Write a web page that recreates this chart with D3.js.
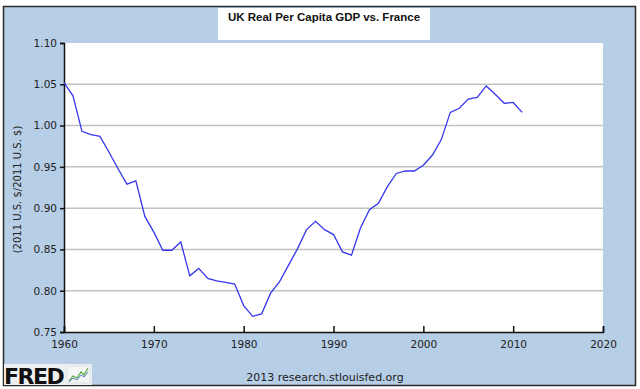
<!DOCTYPE html>
<html>
<head>
<meta charset="utf-8">
<script src="https://cdn.jsdelivr.net/npm/d3@7"></script>
<style>
    body { margin: 0; background: #fff; }
    .axis-label { font-family: "DejaVu Sans", Verdana, sans-serif; font-size: 10.5px; fill: #222; }
    .chart-title { font-family: "Liberation Sans", Arial, sans-serif; font-size: 11.5px; font-weight: bold; fill: #111; }
</style>
</head>
<body>
<div id="chart-area"></div>
<script>

// UK real per capita GDP relative to France
let years = [1960, 1961, 1962, 1963, 1964, 1965, 1966, 1967, 1968, 1969,
             1970, 1971, 1972, 1973, 1974, 1975, 1976, 1977, 1978, 1979,
             1980, 1981, 1982, 1983, 1984, 1985, 1986, 1987, 1988, 1989,
             1990, 1991, 1992, 1993, 1994, 1995, 1996, 1997, 1998, 1999,
             2000, 2001, 2002, 2003, 2004, 2005, 2006, 2007, 2008, 2009,
             2010, 2011];
let ratio = [1.052, 1.036, 0.993, 0.989, 0.987, 0.968, 0.948, 0.929, 0.933, 0.890,
             0.871, 0.849, 0.849, 0.859, 0.818, 0.827, 0.815, 0.812, 0.810, 0.808,
             0.782, 0.769, 0.772, 0.797, 0.811, 0.831, 0.851, 0.874, 0.884, 0.874,
             0.868, 0.847, 0.843, 0.876, 0.898, 0.906, 0.926, 0.942, 0.945, 0.945,
             0.952, 0.964, 0.983, 1.016, 1.021, 1.032, 1.034, 1.048, 1.038, 1.027,
             1.028, 1.016];

let xTicks = [1960, 1970, 1980, 1990, 2000, 2010, 2020];
let yTicks = [0.75, 0.80, 0.85, 0.90, 0.95, 1.00, 1.05, 1.10];

let chartTitle = "UK Real Per Capita GDP vs. France";
let yTitle = "(2011 U.S. $/2011 U.S. $)";
let footer = "2013 research.stlouisfed.org";


class FredChart {

    constructor(parentElement) {
        this._parentElement = parentElement;
        this.initVis();
    }

    initVis() {
        let vis = this;

        vis.outerWidth = 640;
        vis.outerHeight = 389;
        vis.margin = {top: 43, right: 37, bottom: 57, left: 64};
        vis.width = vis.outerWidth - vis.margin.left - vis.margin.right;
        vis.height = vis.outerHeight - vis.margin.top - vis.margin.bottom;

        vis.root = d3.select("#" + vis._parentElement).append("svg")
            .attr("width", vis.outerWidth)
            .attr("height", vis.outerHeight);

        // blue frame around everything
        vis.root.append("rect")
            .attr("x", 3.5).attr("y", 6.5)
            .attr("width", 632).attr("height", 379)
            .attr("fill", "#b6cee6")
            .attr("stroke", "#2a2a2a")
            .attr("stroke-width", 1.5);

        // title box
        vis.root.append("rect")
            .attr("x", 218).attr("y", 8)
            .attr("width", 212).attr("height", 32)
            .attr("fill", "#fff");
        vis.root.append("text")
            .attr("class", "chart-title")
            .attr("x", 324).attr("y", 21)
            .attr("text-anchor", "middle")
            .text(chartTitle);

        vis.svg = vis.root.append("g")
            .attr("transform", "translate(" + vis.margin.left + "," + vis.margin.top + ")");

        vis.svg.append("rect")
            .attr("width", vis.width)
            .attr("height", vis.height)
            .attr("fill", "#fff");

        // scales
        vis.x = d3.scaleLinear()
            .domain([1960, 2020])
            .range([0, vis.width]);
        vis.y = d3.scaleLinear()
            .domain([0.75, 1.10])
            .range([vis.height, 0]);

        // gridlines
        vis.svg.append("g")
            .attr("class", "grid")
            .selectAll("line")
            .data(yTicks.filter(d => d > 0.75 && d < 1.10))
            .enter().append("line")
            .attr("x1", 0).attr("x2", vis.width)
            .attr("y1", d => vis.y(d)).attr("y2", d => vis.y(d))
            .attr("stroke", "#c2c2c2")
            .attr("stroke-width", 1.5);

        // axes
        vis.yAxis = d3.axisLeft(vis.y)
            .tickValues(yTicks)
            .tickFormat(d3.format(".2f"))
            .tickSize(4)
            .tickPadding(3);
        vis.xAxis = d3.axisBottom(vis.x)
            .tickValues(xTicks)
            .tickFormat(d3.format("d"))
            .tickSize(-6)
            .tickPadding(9);

        vis.svg.append("g")
            .attr("class", "y-axis axis")
            .call(vis.yAxis);
        vis.svg.append("g")
            .attr("class", "x-axis axis")
            .attr("transform", "translate(0," + vis.height + ")")
            .call(vis.xAxis);

        vis.svg.selectAll(".axis .domain")
            .attr("stroke", "#111")
            .attr("stroke-width", 1.5);
        vis.svg.selectAll(".axis .tick line")
            .attr("stroke", "#111")
            .attr("stroke-width", 1.5);
        vis.svg.selectAll(".axis text")
            .attr("class", "axis-label")
            .attr("font-family", null)
            .attr("font-size", null)
            .attr("fill", null);
        vis.svg.selectAll(".x-axis .tick text").attr("dy", "0.71em");

        // y axis title
        vis.root.append("text")
            .attr("class", "axis-label")
            .style("font-size", "10px")
            .attr("transform", "translate(21," + (vis.margin.top + vis.height / 2 + 2) + ") rotate(-90)")
            .attr("text-anchor", "middle")
            .text(yTitle);

        // footer
        vis.root.append("text")
            .attr("class", "axis-label")
            .style("font-size", "11px")
            .attr("x", 325).attr("y", 381)
            .attr("text-anchor", "middle")
            .text(footer);

        // FRED logo
        let logo = vis.root.append("g").attr("class", "logo");
        logo.append("rect")
            .attr("x", 4).attr("y", 364)
            .attr("width", 88).attr("height", 21)
            .attr("fill", "#eef0f0");
        logo.append("text")
            .attr("x", 4).attr("y", 384)
            .attr("font-family", "DejaVu Sans, sans-serif")
            .attr("font-weight", "bold")
            .attr("font-size", "22px")
            .attr("letter-spacing", "-1.5")
            .attr("fill", "#111")
            .text("FRED");
        logo.append("rect")
            .attr("x", 67).attr("y", 366)
            .attr("width", 23).attr("height", 17)
            .attr("fill", "#f4f6f4")
            .attr("stroke", "#cfd3d8")
            .attr("stroke-width", 0.5);
        logo.append("polyline")
            .attr("points", "69,381 73,376 77,378 81,372 84,375 88,368")
            .attr("fill", "none").attr("stroke", "#5aa845").attr("stroke-width", 1.2);
        logo.append("polyline")
            .attr("points", "69,382 73,378 77,380 81,375 84,377 88,372")
            .attr("fill", "none").attr("stroke", "#5a7fc8").attr("stroke-width", 1);

        vis.svg.append("path")
            .attr("class", "ratio-line");

        vis.wrangleData();
    }

    wrangleData() {
        let vis = this;
        vis.displayData = years.map((yr, i) => ({year: yr, value: ratio[i]}));
        vis.updateVis();
    }

    updateVis() {
        let vis = this;

        vis.line = d3.line()
            .x(d => vis.x(d.year))
            .y(d => vis.y(d.value));

        vis.svg.select("path.ratio-line")
            .datum(vis.displayData)
            .attr("fill", "none")
            .attr("stroke", "#3636ee")
            .attr("stroke-width", 1.3)
            .attr("d", vis.line);
    }
}

new FredChart("chart-area");

</script>
</body>
</html>
